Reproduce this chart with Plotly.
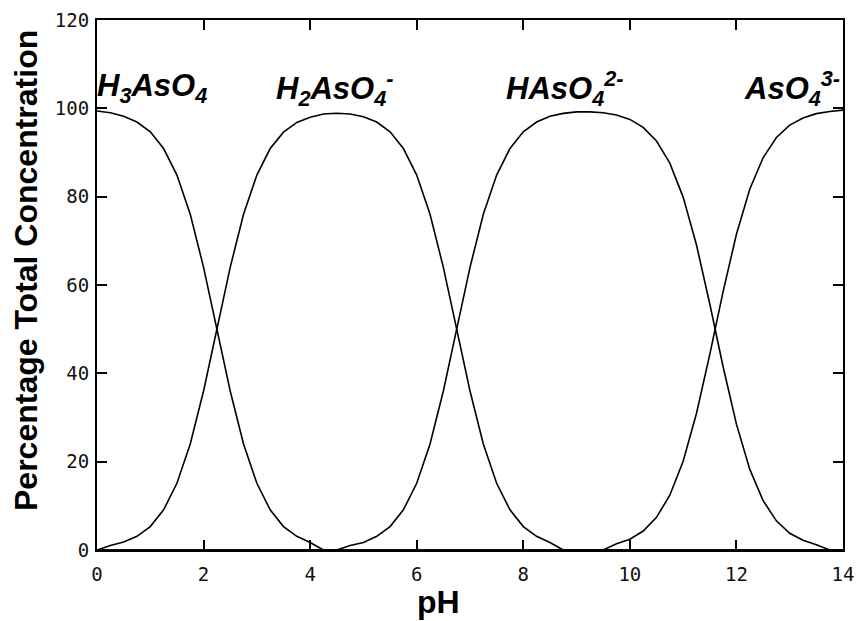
import plotly.graph_objects as go

pH = [0.0, 0.25, 0.5, 0.75, 1.0, 1.25, 1.5, 1.75, 2.0, 2.25, 2.5, 2.75, 3.0, 3.25, 3.5, 3.75,
      4.0, 4.25, 4.5, 4.75, 5.0, 5.25, 5.5, 5.75, 6.0, 6.25, 6.5, 6.75, 7.0, 7.25, 7.5, 7.75,
      8.0, 8.25, 8.5, 8.75, 9.0, 9.25, 9.5, 9.75, 10.0, 10.25, 10.5, 10.75, 11.0, 11.25, 11.5,
      11.75, 12.0, 12.25, 12.5, 12.75, 13.0, 13.25, 13.5, 13.75, 14.0]

h3aso4 = [99.4, 99.0, 98.2, 96.9, 94.7, 90.9, 84.9, 76.0, 64.0, 50.0, 36.0, 24.0, 15.1, 9.1, 5.3, 3.1,
          1.7, 0, 0, 0, 0, 0, 0, 0, 0, 0, 0, 0, 0, 0, 0, 0,
          0, 0, 0, 0, 0, 0, 0, 0, 0, 0, 0, 0, 0, 0, 0,
          0, 0, 0, 0, 0, 0, 0, 0, 0, 0]

h2aso4 = [0, 1.0, 1.8, 3.1, 5.3, 9.1, 15.1, 24.0, 36.0, 50.0, 64.0, 76.0, 84.9, 90.9, 94.6, 96.8,
          98.0, 98.7, 98.9, 98.7, 98.1, 96.9, 94.7, 90.9, 84.9, 76.0, 64.0, 50.0, 36.0, 24.0, 15.1, 9.1,
          5.3, 3.1, 1.7, 0, 0, 0, 0, 0, 0, 0, 0, 0, 0, 0, 0,
          0, 0, 0, 0, 0, 0, 0, 0, 0, 0]

haso4 = [0, 0, 0, 0, 0, 0, 0, 0, 0, 0, 0, 0, 0, 0, 0, 0,
         0, 0, 0, 1.0, 1.7, 3.1, 5.3, 9.1, 15.1, 24.0, 36.0, 50.0, 64.0, 76.0, 84.9, 90.9,
         94.7, 96.9, 98.2, 98.85, 99.2, 99.2, 99.0, 98.5, 97.5, 95.7, 92.6, 87.6, 79.9, 69.1, 55.7,
         41.5, 28.5, 18.3, 11.2, 6.6, 3.8, 2.2, 1.2, 0, 0]

aso4 = [0, 0, 0, 0, 0, 0, 0, 0, 0, 0, 0, 0, 0, 0, 0, 0,
        0, 0, 0, 0, 0, 0, 0, 0, 0, 0, 0, 0, 0, 0, 0, 0,
        0, 0, 0, 0, 0, 0, 0, 1.4, 2.45, 4.3, 7.4, 12.4, 20.1, 30.9, 44.3,
        58.5, 71.5, 81.7, 88.8, 93.4, 96.2, 97.8, 98.8, 99.3, 99.6]

species_labels = ["H<sub>3</sub>AsO<sub>4</sub>", "H<sub>2</sub>AsO<sub>4</sub><sup>-</sup>",
                  "HAsO<sub>4</sub><sup>2-</sup>", "AsO<sub>4</sub><sup>3-</sup>"]
label_pH = [1.03, 4.47, 8.79, 13.05]

x_ticks = [0, 2, 4, 6, 8, 10, 12, 14]
y_ticks = [0, 20, 40, 60, 80, 100, 120]

W, H = 856, 621
L, R, T, B = 97, 13, 20, 71
pw, ph = W - L - R, H - T - B

def px_x(px):
    return (px - L) / pw

def px_y(py):
    return 1 - (py - T) / ph

fig = go.Figure()
for series in [h3aso4, h2aso4, haso4, aso4]:
    fig.add_trace(go.Scatter(x=pH, y=series, mode="lines",
                             line=dict(color="black", width=1.6), showlegend=False,
                             hoverinfo="skip"))

for lab, xp in zip(species_labels, label_pH):
    fig.add_annotation(x=xp, y=104.5, xref="x", yref="y", text=f"<b><i>{lab}</i></b>",
                       showarrow=False, xanchor="center", yanchor="middle",
                       font=dict(family="Liberation Sans, Arial", size=31, color="black"))

fig.add_annotation(x=px_x(26), y=px_y(271), xref="paper", yref="paper",
                   text="<b>Percentage Total Concentration</b>", textangle=-90,
                   showarrow=False, xanchor="center", yanchor="middle",
                   font=dict(family="Liberation Sans, Arial", size=32, color="black"))
fig.add_annotation(x=px_x(438), y=px_y(602), xref="paper", yref="paper",
                   text="<b>pH</b>", showarrow=False, xanchor="center", yanchor="middle",
                   font=dict(family="Liberation Sans, Arial", size=32, color="black"))

axis_common = dict(showgrid=False, zeroline=False, showline=True, linecolor="black",
                   linewidth=2, mirror="ticks", ticks="inside", ticklen=10, tickwidth=2,
                   tickcolor="black",
                   tickfont=dict(family="DejaVu Sans Mono", size=19, color="#111"))

fig.update_xaxes(range=[0, 14], tickvals=x_ticks, ticktext=[str(v) for v in x_ticks],
                 ticklabelstandoff=6, **axis_common)
fig.update_yaxes(range=[0, 120], tickvals=y_ticks, ticktext=[str(v) for v in y_ticks],
                 ticklabelstandoff=2, **axis_common)

fig.update_layout(width=W, height=H, margin=dict(l=L, r=R, t=T, b=B, autoexpand=False),
                  plot_bgcolor="white", paper_bgcolor="white")

fig.write_html("out.html", config={"displayModeBar": False},
               post_script="document.body.style.margin='0px';")
